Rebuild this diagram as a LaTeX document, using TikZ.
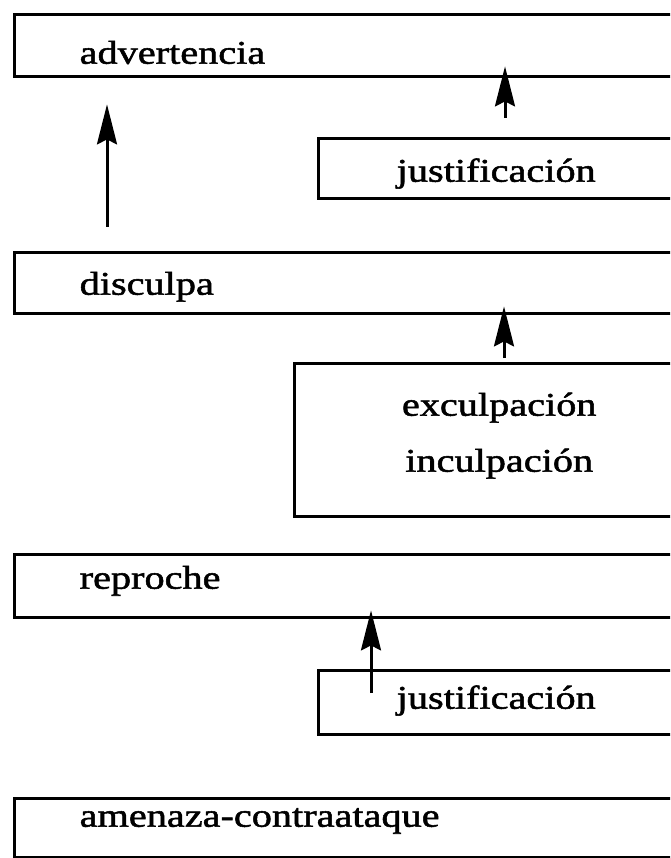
\documentclass[tikz,border=0pt]{standalone}
\usepackage{fontspec}
\setmainfont{Liberation Serif}[FakeStretch=1.22,FakeBold=1.6]
\usetikzlibrary{arrows.meta}

\tikzset{
  box/.style={draw, line width=3.4pt, rectangle, anchor=north west, align=left,
    inner ysep=0pt, inner xsep=65pt, text width=600pt,
    font=\fontsize{33}{56}\selectfont},
  sub/.style={box, inner xsep=78pt, text width=300pt},
  arr/.style={-{Stealth[length=40pt,width=20pt,inset=5pt]}, line width=3pt},
}

\begin{document}
\begin{tikzpicture}[x=1pt,y=-1pt]

  \useasboundingbox (0,0) rectangle (670,858);
  \clip (0,0) rectangle (670,858);

  % main moves
  \node [box, text height=49pt, text depth=13pt] (adv) at (13,13) {advertencia};
  \node [box, text height=42pt, text depth=19pt] (dis) at (13,251) {disculpa};
  \node [box, text height=34pt, text depth=29pt] (rep) at (13,553) {reproche};
  \node [box, text height=28pt, text depth=31pt] (ame) at (13,797) {amenaza-contraataque};

  % supporting moves
  \node [sub, text height=43pt, text depth=17pt] (jus1) at (317,137) {justificación};
  \node [sub, align=center, inner xsep=65pt, text width=279pt,
    text height=52pt, text depth=101pt] (exc) at (293,362) {exculpación\\inculpación};
  \node [sub, text height=38pt, text depth=26pt] (jus2) at (317,669) {justificación};

  % arrows
  \draw [arr] ([xshift=94pt,yshift=24pt]dis.north west) -- ([xshift=94pt,yshift=-26pt]adv.south west);
  \draw [arr] ([xshift=188pt,yshift=19pt]jus1.north west) -- ([xshift=492pt,yshift=12pt]adv.south west);
  \draw [arr] ([xshift=211pt,yshift=4pt]exc.north west) -- ([xshift=491pt,yshift=9pt]dis.south west);
  \draw [arr] ([xshift=54pt,yshift=-24pt]jus2.north west) -- ([xshift=358pt,yshift=9pt]rep.south west);

\end{tikzpicture}
\end{document}
